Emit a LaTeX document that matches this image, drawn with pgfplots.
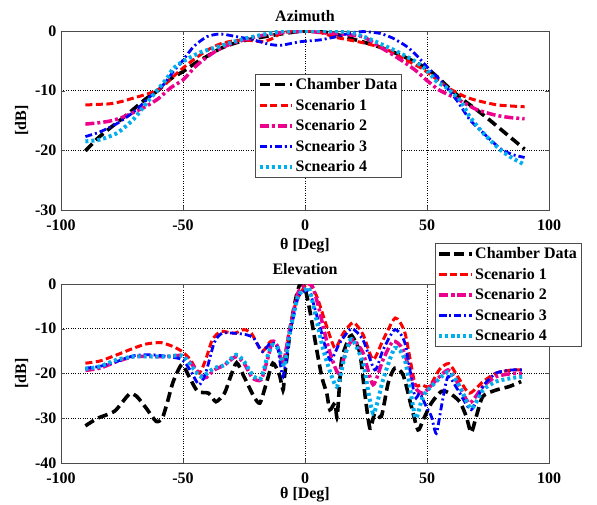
\documentclass[border=0pt]{standalone}
\usepackage{fontspec}
\setmainfont{Liberation Serif}
\usepackage{pgfplots}
\pgfplotsset{compat=1.18}

\newcommand{\lbl}{\fontsize{16}{18}\selectfont\bfseries}

\pgfplotsset{
  pat/.style={
    scale only axis, width=488pt, height=179pt,
    xmin=-100, xmax=100, xtick={-100,-50,0,50,100},
    grid=major,
    major grid style={dotted, black, line width=0.6pt},
    axis line style={black!70, line width=0.8pt},
    tick style={black!70},
    tick align=inside,
    major tick length=4pt,
    /pgf/number format/assume math mode=true,
    ticklabel style={font=\lbl},
    xticklabel style={yshift=-6pt},
    yticklabel style={xshift=-1pt},
    label style={font=\lbl},
    title style={font=\lbl},
    xlabel={θ [Deg]}, ylabel={[dB]},
    legend cell align=left,
    legend style={font=\lbl, draw=black!70, line width=0.8pt,
      inner sep=2pt, row sep=4pt, nodes={inner sep=2pt}},
    legend image code/.code={
      \draw[#1] plot coordinates {(0pt,0pt) (16pt,0pt) (32pt,0pt)};},
  },
  cham/.style={black, line width=3.6pt, dash pattern=on 10pt off 5pt, smooth, tension=0.4},
  sc1/.style={red, line width=3pt, dash pattern=on 7pt off 3.5pt, smooth, tension=0.4},
  sc2/.style={magenta, line width=3.5pt, dash pattern=on 9pt off 3pt on 3pt off 3pt, smooth, tension=0.4},
  sc3/.style={blue, line width=2.8pt, dash pattern=on 7pt off 3pt on 2pt off 3pt, smooth, tension=0.4},
  sc4/.style={cyan, line width=4pt, dash pattern=on 3pt off 3pt, smooth, tension=0.4},
}

\begin{document}
\begin{tikzpicture}
\useasboundingbox (0,0) rectangle (597pt,504pt);

% Azimuth
\begin{axis}[pat, at={(61pt,294pt)}, anchor=south west,
  title={Azimuth},
  xlabel style={yshift=-1pt},
  ymin=-30, ymax=0, ytick={-30,-20,-10,0},
  legend style={at={(0.398,0.76)}, anchor=north west}]
\addplot[cham] coordinates {
(-90,-20.1) (-85,-18) (-80,-16.3) (-75,-14.7) (-70,-13) (-65,-11.3) (-60,-9.9)
(-55,-8) (-50,-6.8) (-45,-5.4) (-40,-4.2) (-35,-3) (-30,-2.2) (-25,-1.6)
(-20,-1.2) (-10,-0.5) (0,0) (10,-0.3) (15,-0.8) (20,-1.4) (30,-2.6) (40,-4.2)
(50,-6.3) (55,-8) (60,-9.9) (65,-11.6) (70,-13.1) (75,-14.7) (80,-16.4)
(85,-18.1) (90,-19.8)};
\addlegendentry{Chamber Data}
\addplot[sc1] coordinates {
(-90,-12.4) (-85,-12.3) (-80,-12.2) (-75,-11.8) (-70,-11.2) (-65,-10.6)
(-60,-9.8) (-55,-8) (-50,-6.2) (-45,-4.6) (-40,-3.2) (-35,-2.2) (-30,-1.7)
(-25,-1.5) (-20,-1.7) (-17,-1.8) (-13,-1.2) (-10,-0.4) (-5,0) (0,0) (5,-0.1)
(9,-0.6) (13,-1.1) (18,-1.5) (23,-1.9) (28,-2.4) (33,-3) (38,-4.1) (43,-5.2)
(48,-6.3) (53,-7.8) (59,-9.6) (65,-10.9) (70,-11.6) (79,-12.4) (90,-12.7)};
\addlegendentry{Scenario 1}
\addplot[sc2] coordinates {
(-90,-15.6) (-85,-15.4) (-80,-15.1) (-75,-14.5) (-70,-13.6) (-65,-12.6)
(-60,-11.3) (-55,-9.5) (-50,-8.2) (-45,-6) (-40,-4.3) (-35,-3) (-30,-2.1)
(-25,-1.5) (-17,-0.7) (-10,-0.3) (-3,-0.1) (0,0) (5,-0.2) (10,-0.4) (17,-0.6)
(24,-1) (30,-2.5) (38,-4.5) (45,-6.5) (50,-8.3) (55,-9.9) (62,-11.3)
(70,-13.1) (78,-14.1) (84,-14.5) (90,-14.7)};
\addlegendentry{Scenario 2}
\addplot[sc3] coordinates {
(-90,-17.7) (-84,-16.9) (-77,-15.5) (-70,-13.5) (-63.5,-11) (-58,-9)
(-54,-6.8) (-50.4,-5.1) (-45.6,-2.6) (-40.2,-0.95) (-34.7,-0.5) (-28,-0.95)
(-21,-1.5) (-15,-2.2) (-10,-2.4) (-2,-1.8) (6,-1.5) (13,-0.95) (19,-0.3)
(24,-0.1) (30.7,-0.4) (36,-1.2) (41.7,-2.6) (46,-4.2) (50,-6) (56.7,-8.8)
(62.2,-11.6) (67.6,-14.9) (73.1,-17.1) (80,-19.7) (85,-20.7) (90,-21.2)};
\addlegendentry{Scneario 3}
\addplot[sc4] coordinates {
(-90,-18.5) (-84,-18.2) (-77,-17.1) (-70.3,-14.8) (-64.8,-12) (-59.3,-9.3)
(-56.5,-7.9) (-54,-6.3) (-50,-5.1) (-43,-3.6) (-37.6,-2.9) (-30,-1.9)
(-24,-1.2) (-17,-0.6) (-10,-0.1) (0,0) (10,0) (15,-0.1) (20,-0.4) (25,-1.1)
(30.7,-2.1) (37,-3.3) (44.4,-4.9) (50,-6.6) (54,-8.5) (58,-9.5) (63.5,-11.6)
(67.6,-14.4) (73,-17.1) (80,-19.9) (85,-21.3) (90,-22.4)};
\addlegendentry{Scneario 4}
\end{axis}

% Elevation
\begin{axis}[pat, at={(61pt,41pt)}, anchor=south west,
  title={Elevation},
  xlabel style={yshift=3pt},
  ymin=-40, ymax=0, ytick={-40,-30,-20,-10,0},
  legend style={at={(0.766,1.229)}, anchor=north west}]
\addplot[cham] coordinates {
(-90,-31.7) (-85,-30) (-78,-28.4) (-72,-24.6) (-69,-25.1) (-65,-27.8)
(-61,-30.7) (-58.5,-30) (-56.5,-26.6) (-54,-21.8) (-50.5,-18) (-47.5,-20.7)
(-44,-24) (-39.5,-24.4) (-36.5,-26.3) (-33,-24.4) (-30.5,-20.7) (-28,-17.6)
(-25,-20.7) (-21,-25.1) (-18.5,-26.6) (-16,-22.5) (-13.2,-17.7) (-10.5,-20.3)
(-9,-23.7) (-8.4,-20.7) (-5.6,-8.7) (-3.6,-2.8) (-2,0) (0,-1) (2,-6)
(4.8,-14.7) (7,-21) (8.9,-24.4) (10.2,-28.1) (12.3,-26.6) (13.2,-29.6)
(15,-17) (18.4,-11.7) (19.8,-12) (22.5,-15.4) (24.5,-24.4) (26.6,-32.2)
(28.6,-28.9) (31.3,-29.6) (34.1,-22.1) (36.8,-18.8) (40.2,-20.3) (43.6,-27.4)
(46.3,-32.6) (48.4,-30.4) (51.8,-26.6) (55.9,-24) (59.3,-24.4) (63.4,-26.3)
(66.1,-29.6) (68.1,-33.2) (70.2,-29.6) (72.9,-25.1) (78.3,-23.7) (83.8,-22.9)
(88.6,-21.8)};
\addlegendentry{Chamber Data}
\addplot[sc1] coordinates {
(-90,-17.7) (-84,-17.2) (-77,-15.8) (-70,-14.3) (-65,-13.4) (-59,-13.1)
(-54,-14) (-50.3,-15.1) (-47,-16.9) (-43.4,-19.9) (-40.7,-16.9) (-38,-12.5)
(-34.5,-10.6) (-29,-11) (-25,-10.2) (-22,-11) (-19.4,-13.6) (-17.4,-15.1)
(-14,-12.8) (-11.2,-14) (-9,-17.7) (-6.3,-10.2) (-3.6,-3.9) (0,-0.5) (2,0)
(5,-3) (8.9,-9.5) (12.3,-14.3) (15.7,-11) (19.8,-8.6) (23.8,-11.3)
(27.9,-16.9) (32,-12.5) (37,-7.6) (41,-11) (45,-22.2) (47.7,-22.5) (51,-22.9)
(55,-19.2) (59,-17.8) (63.4,-21.4) (67.4,-24.4) (73,-21.8) (78.3,-19.9)
(85,-19.2) (89,-19.2)};
\addlegendentry{Scenario 1}
\addplot[sc2] coordinates {
(-90,-19.3) (-84,-18.8) (-77,-17.3) (-70,-16.2) (-63,-16.2) (-56.5,-16.2)
(-50.3,-16) (-46.8,-17.7) (-41.3,-21) (-37.2,-19.2) (-33,-18.1) (-28.3,-16.2)
(-25,-17.7) (-21.5,-21) (-18,-21.4) (-15.4,-16.9) (-13.3,-12.8) (-11.2,-14)
(-9,-18) (-6.3,-10.2) (-2.9,-2) (0,-0.3) (2.7,-0.1) (5.5,-5) (9.5,-14)
(13.6,-19.9) (17,-14.7) (19.8,-12.5) (23.8,-15.4) (27.9,-22.5) (32,-16.9)
(36.1,-12.8) (40.2,-14.7) (45,-22.9) (48.4,-24.4) (52.5,-22.2) (58.6,-19.2)
(62.7,-22.2) (67.4,-26.6) (72.9,-22.9) (78.3,-20.7) (85,-20) (89,-20)};
\addlegendentry{Scenario 2}
\addplot[sc3] coordinates {
(-90,-18.8) (-84,-18.4) (-77,-17.3) (-70,-16) (-63,-15.8) (-56.5,-16.2)
(-50.3,-16.9) (-46.8,-19.5) (-43.4,-22.5) (-40.7,-19.9) (-37.2,-13.1)
(-34,-11) (-29,-11) (-24.3,-11.3) (-21,-12.1) (-17.4,-15.1) (-14,-13.1)
(-11.2,-14.3) (-9,-20.7) (-6.3,-11.7) (-2.9,-3.1) (0,-1.6) (2,-1.8)
(6.1,-9.5) (10.2,-17) (14.3,-13.1) (19.1,-10) (23.8,-12.5) (28.6,-19.2)
(32,-14.7) (36.8,-10.2) (40.9,-13.1) (45,-25.1) (47,-24.4) (49.7,-27.4)
(51.8,-29.6) (53.8,-33.4) (55.9,-27.4) (58.6,-20.7) (62.7,-23.7) (68.1,-28.1)
(72.9,-22.9) (78.3,-19.9) (85,-19.2) (89,-19.2)};
\addlegendentry{Scneario 3}
\addplot[sc4] coordinates {
(-90,-19) (-84,-18.4) (-77,-16.9) (-70,-16.2) (-63,-16.2) (-56.5,-16.2)
(-50.3,-16) (-46.8,-18.1) (-42.7,-20.7) (-37.2,-18.8) (-33,-18.1)
(-28.3,-15.8) (-25,-17.3) (-21,-20.7) (-18,-21) (-15.4,-16.2) (-13.3,-13.6)
(-10.6,-14.7) (-8.4,-18.4) (-6.3,-11) (-2.9,-2.8) (0,-1.3) (2,-1.5)
(7.5,-14.7) (12.9,-22.9) (16.3,-16.2) (19.1,-12.3) (23.8,-17.7) (27.9,-28.9)
(32,-21.4) (36.8,-14.3) (40.9,-16.9) (44.3,-27.4) (45.6,-30) (48.4,-25.1)
(52.5,-22.5) (58.6,-19.7) (62.7,-22.2) (68.1,-27.8) (72.9,-23.7) (78.3,-21.8)
(85,-21) (89,-20.7)};
\addlegendentry{Scneario 4}
\end{axis}
\end{tikzpicture}
\end{document}
